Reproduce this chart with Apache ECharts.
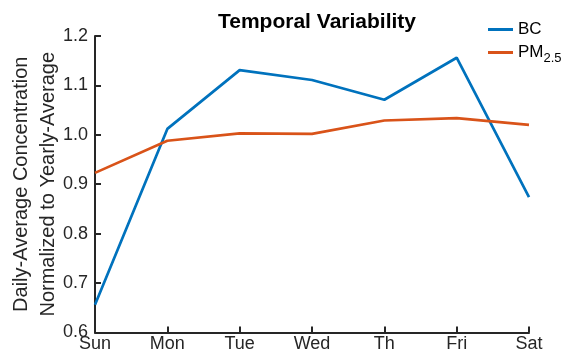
<!DOCTYPE html>
<html>
<head>
<meta charset="utf-8">
<script src="https://cdn.jsdelivr.net/npm/echarts@6/dist/echarts.min.js"></script>
<style>
  html, body { margin: 0; padding: 0; background: #fff; }
  #chart { width: 561px; height: 358px; }
</style>
</head>
<body>
<div id="chart"></div>
<script>
// Day-of-week pattern, each value normalised to the yearly average
const days = ['Sun', 'Mon', 'Tue', 'Wed', 'Th', 'Fri', 'Sat'];
const bcValues = [0.656, 1.012, 1.131, 1.111, 1.071, 1.156, 0.874];
const pmValues = [0.923, 0.988, 1.003, 1.002, 1.029, 1.034, 1.020];
const yTicks = [0.6, 0.7, 0.8, 0.9, 1.0, 1.1, 1.2];

const FONT = '"Liberation Sans", Arial, sans-serif';
const AXIS = '#262626';

const chart = echarts.init(document.getElementById('chart'));
chart.setOption({
  animation: false,
  backgroundColor: '#fff',
  title: {
    text: 'Temporal Variability',
    left: 312, top: 7, textAlign: 'center',
    textStyle: { fontFamily: FONT, fontSize: 21, fontWeight: 'bold', color: '#000' }
  },
  legend: {
    left: 483, top: 16, orient: 'vertical',
    itemWidth: 25, itemHeight: 3, itemGap: 6, icon: 'rect',
    data: [
      { name: 'BC' },
      { name: 'PM2.5' }
    ],
    formatter: function (name) {
      return name === 'PM2.5' ? 'PM{sub|2.5}' : name;
    },
    textStyle: {
      fontFamily: FONT, fontSize: 17, color: '#000',
      rich: { sub: { fontFamily: FONT, fontSize: 13, color: '#000', padding: [12, 0, 0, 0] } }
    }
  },
  grid: { left: 95, right: 32, top: 36, bottom: 25.5, containLabel: false, outerBoundsMode: 'none' },
  xAxis: {
    type: 'category',
    data: days,
    boundaryGap: false,
    axisLine: { lineStyle: { color: AXIS, width: 2 } },
    axisTick: { inside: true, length: 6, lineStyle: { color: AXIS, width: 2 } },
    axisLabel: { fontFamily: FONT, fontSize: 18, color: '#262626', margin: 3 },
    splitLine: { show: false }
  },
  yAxis: {
    type: 'value',
    min: yTicks[0], max: yTicks[yTicks.length - 1], interval: 0.1,
    name: 'Daily-Average Concentration\nNormalized to Yearly-Average',
    nameLocation: 'middle', nameGap: 33, nameRotate: 90, nameMoveOverlap: false,
    nameTextStyle: { fontFamily: FONT, fontSize: 20, color: '#262626', lineHeight: 27 },
    axisLine: { show: true, lineStyle: { color: AXIS, width: 2 } },
    axisTick: { show: true, inside: true, length: 6, lineStyle: { color: AXIS, width: 2 } },
    axisLabel: {
      fontFamily: FONT, fontSize: 18, color: '#262626', margin: 7,
      formatter: function (v) { return v.toFixed(1); }
    },
    splitLine: { show: false }
  },
  series: [
    {
      name: 'BC', type: 'line', data: bcValues,
      symbol: 'none', color: '#0072BD',
      lineStyle: { width: 2.7, color: '#0072BD' }
    },
    {
      name: 'PM2.5', type: 'line', data: pmValues,
      symbol: 'none', color: '#D95319',
      lineStyle: { width: 2.7, color: '#D95319' }
    }
  ]
});
</script>
</body>
</html>
